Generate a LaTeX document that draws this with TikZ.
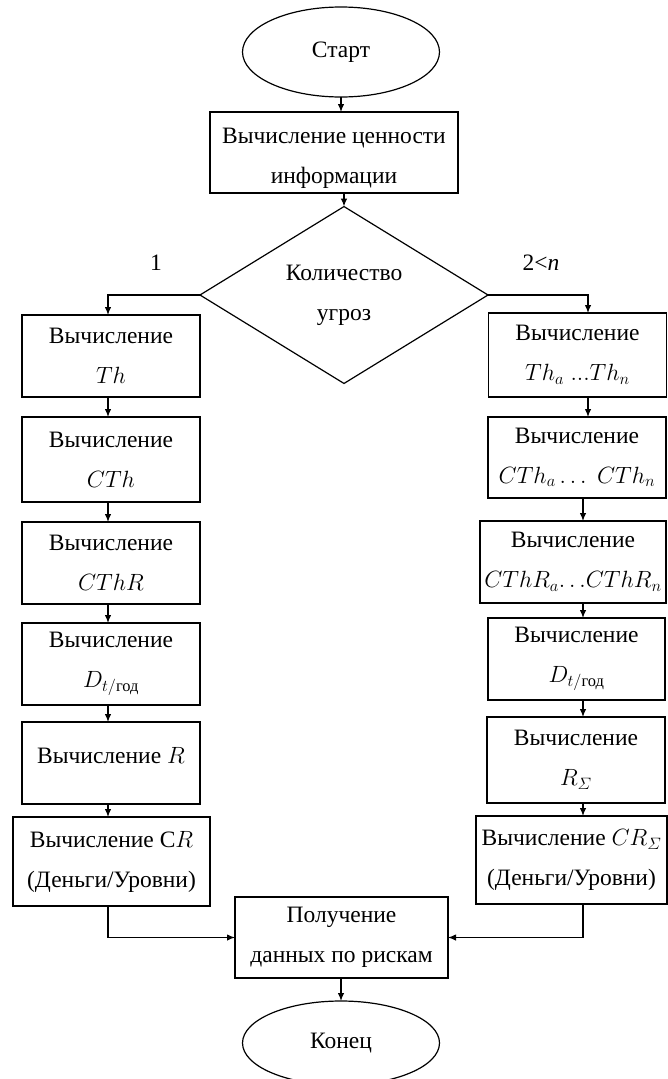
\RequirePackage{fix-cm}
\documentclass[tikz,border=0pt]{standalone}
\usepackage{amsmath}
\usepackage{fontspec}
\setmainfont{Liberation Serif}
\usetikzlibrary{shapes.geometric}
\usetikzlibrary{arrows.meta}

\begin{document}
\begin{tikzpicture}[x=1pt,y=-1pt,inner sep=0pt,outer sep=0pt,line width=1.2pt,
font=\fontsize{23.5}{40}\selectfont,>={Latex[length=8pt,width=6.5pt]},
calcblock/.style={draw,rectangle,align=center,minimum width=178pt,minimum height=82pt},
termblock/.style={draw,ellipse,minimum width=197pt,minimum height=88pt},
choiceblock/.style={draw,diamond,align=center,minimum width=288pt,minimum height=164pt}]

\useasboundingbox (0,0) rectangle (668,1079);
\clip (0,0) rectangle (668,1079);

\coordinate (lx) at (108,0);
\coordinate (ra) at (588,0);
\coordinate (rb) at (583,0);

\draw (341,52) node[termblock,minimum height=90pt] (start) {Старт};
\draw (334,152.5) node[calcblock,minimum width=248pt,minimum height=81pt] (value) {\rule{0pt}{26pt}Вычисление ценности\\информации};
\draw (344,295) node[choiceblock] (count) {Количество\\угроз};
\draw (156,263) node (one) {1};
\draw (541,263) node (many) {2<\textit{n}};

\draw (111,356) node[calcblock] (th) {Вычисление\\$Th$};
\draw (111,459.5) node[calcblock,minimum height=85pt] (cth) {Вычисление\\$CTh$};
\draw (111,563) node[calcblock] (cthr) {Вычисление\\$CThR$};
\draw (111,664) node[calcblock] (dt) {Вычисление\\$D_{t/\text{год}}$};
\draw (111,763) node[calcblock] (r) {\raisebox{16pt}{Вычисление $R$}};
\draw (111.5,861.5) node[calcblock,minimum width=197pt,minimum height=89pt] (cr) {Вычисление C$R$\\(Деньги/Уровни)};

\draw (577.5,355) node[calcblock,minimum height=84pt] (thn) {Вычисление\\$Th_a\;...Th_n$};
\draw (577,457.5) node[calcblock,minimum height=81pt] (cthn) {Вычисление\\$CTh_a\ldots\;CTh_n$};
\draw (573,562) node[calcblock,minimum width=186pt] (cthrn) {Вычисление\\$CThR_a{\ldots}CThR_n$};
\draw (576.5,659) node[calcblock,minimum width=177pt] (dtn) {Вычисление\\$D_{t/\text{год}}$};
\draw (576,760) node[calcblock,minimum height=86pt] (rs) {Вычисление\\$R_{\varSigma}$};
\draw (571.5,860) node[calcblock,minimum width=191pt,minimum height=88pt] (crs) {Вычисление $CR_{\varSigma}$\\(Деньги/Уровни)};

\draw (341.5,937.5) node[calcblock,minimum width=213pt,minimum height=81pt] (risk) {Получение\\данных по рискам};
\draw (341,1043) node[termblock,minimum height=84pt] (stop) {Конец};

\draw[->] (start.south) -- (start.south |- value.north);
\draw[->] (value.south -| count.north) -- (count.north);
\draw[->] (count.west) -| (th.north -| lx);
\draw[->] (count.east) -| (thn.north -| ra);

\draw[->] (th.south -| lx) -- (cth.north -| lx);
\draw[->] (cth.south -| lx) -- (cthr.north -| lx);
\draw[->] (cthr.south -| lx) -- (dt.north -| lx);
\draw[->] (dt.south -| lx) -- (r.north -| lx);
\draw[->] (r.south -| lx) -- (cr.north -| lx);

\draw[->] (thn.south -| ra) -- (cthn.north -| ra);
\draw[->] (cthn.south -| rb) -- (cthrn.north -| rb);
\draw[->] (cthrn.south -| rb) -- (dtn.north -| rb);
\draw[->] (dtn.south -| rb) -- (rs.north -| rb);
\draw[->] (rs.south -| rb) -- (crs.north -| rb);

\draw[->] (cr.south -| lx) |- (risk.west);
\draw[->] (crs.south -| rb) |- (risk.east);
\draw[->] (risk.south -| stop.north) -- (stop.north);
\end{tikzpicture}
\end{document}
